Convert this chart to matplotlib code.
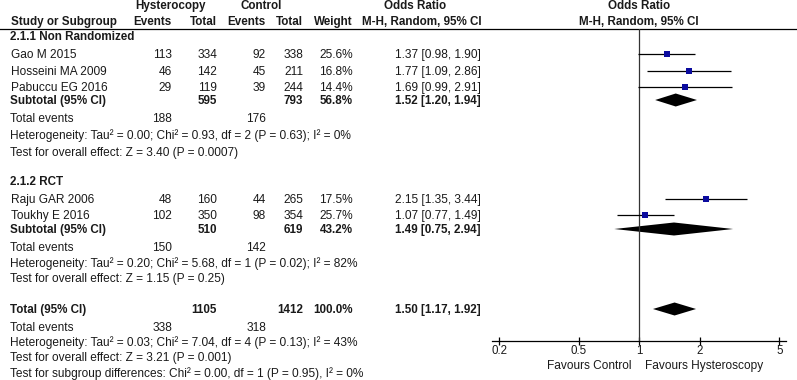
import numpy as np
import matplotlib
matplotlib.use('Agg')
import matplotlib.pyplot as plt
from matplotlib.ticker import NullLocator

plt.rcParams['font.family'] = ['Liberation Sans', 'DejaVu Sans']

# DATA
studies = ['Gao M 2015', 'Hosseini MA 2009', 'Pabuccu EG 2016', 'Raju GAR 2006', 'Toukhy E 2016']
hyst_events = [113, 46, 29, 48, 102]
hyst_total = [334, 142, 119, 160, 350]
ctrl_events = [92, 45, 39, 44, 98]
ctrl_total = [338, 211, 244, 265, 354]
weights = [25.6, 16.8, 14.4, 17.5, 25.7]
or_est = [1.37, 1.77, 1.69, 2.15, 1.07]
or_lo = [0.98, 1.09, 0.99, 1.35, 0.77]
or_hi = [1.90, 2.86, 2.91, 3.44, 1.49]

groups = ['2.1.1 Non Randomized', '2.1.2 RCT']
sub_hyst_total = [595, 510]
sub_ctrl_total = [793, 619]
sub_weight = [56.8, 43.2]
sub_est = [1.52, 1.49]
sub_lo = [1.20, 0.75]
sub_hi = [1.94, 2.94]
sub_hyst_events = [188, 150]
sub_ctrl_events = [176, 142]
sub_het = ['Heterogeneity: Tau\u00b2 = 0.00; Chi\u00b2 = 0.93, df = 2 (P = 0.63); I\u00b2 = 0%',
           'Heterogeneity: Tau\u00b2 = 0.20; Chi\u00b2 = 5.68, df = 1 (P = 0.02); I\u00b2 = 82%']
sub_test = ['Test for overall effect: Z = 3.40 (P = 0.0007)',
            'Test for overall effect: Z = 1.15 (P = 0.25)']

tot_hyst_total = 1105
tot_ctrl_total = 1412
tot_est, tot_lo, tot_hi = 1.50, 1.17, 1.92
tot_hyst_events = 338
tot_ctrl_events = 318
tot_notes = ['Heterogeneity: Tau\u00b2 = 0.03; Chi\u00b2 = 7.04, df = 4 (P = 0.13); I\u00b2 = 43%',
             'Test for overall effect: Z = 3.21 (P = 0.001)',
             'Test for subgroup differences: Chi\u00b2 = 0.00, df = 1 (P = 0.95), I\u00b2 = 0%']

ticks = [0.2, 0.5, 1, 2, 5]
tick_labels = ['0.2', '0.5', '1', '2', '5']

# LAYOUT (pixel rows = text baselines)
W, H = 797, 380
study_base = [58, 75, 91, 203, 219]
group_base = [40, 185]
sub_base = [104, 233]
events_base = [122, 251]
het_base = [139, 267]
test_base = [156, 282]
tot_base = 313
tot_events_base = 331
notes_base = [346, 361, 377]

x_study = 10
x_he, x_ht, x_ce, x_ct, x_w, x_or = 172, 217, 266, 303, 353, 481
txt = '#1a1a1a'
fs = 8.55
fs_bold = 8.4

fig = plt.figure(figsize=(W / 100, H / 100), dpi=100)
ax = fig.add_axes([0, 0, 1, 1])
ax.set_xlim(0, W)
ax.set_ylim(H, 0)
ax.axis('off')


def t(x, y, s, ha='left', bold=False, size=None):
    if size is None:
        size = fs_bold if bold else fs
    ax.text(x, y, s, ha=ha, va='baseline', fontsize=size, color=txt,
            fontweight='bold' if bold else 'normal')


# header
t(171, 9, 'Hysterocopy', ha='center', bold=True)
t(261, 9, 'Control', ha='center', bold=True)
t(415, 9, 'Odds Ratio', ha='center', bold=True)
t(639, 9, 'Odds Ratio', ha='center', bold=True)
t(x_study + 1, 25, 'Study or Subgroup', bold=True)
t(x_he, 25, 'Events', ha='right', bold=True)
t(x_ht, 25, 'Total', ha='right', bold=True)
t(x_ce, 25, 'Events', ha='right', bold=True)
t(x_ct, 25, 'Total', ha='right', bold=True)
t(x_w, 25, 'Weight', ha='right', bold=True)
t(422, 25, 'M-H, Random, 95% CI', ha='center', bold=True)
t(639, 25, 'M-H, Random, 95% CI', ha='center', bold=True)
ax.plot([0, W], [28.5, 28.5], color='black', lw=0.9)

# study rows
for i, name in enumerate(studies):
    y = study_base[i]
    t(x_study + 1, y, name)
    t(x_he, y, str(hyst_events[i]), ha='right')
    t(x_ht, y, str(hyst_total[i]), ha='right')
    t(x_ce, y, str(ctrl_events[i]), ha='right')
    t(x_ct, y, str(ctrl_total[i]), ha='right')
    t(x_w, y, '%.1f%%' % weights[i], ha='right')
    t(x_or, y, '%.2f [%.2f, %.2f]' % (or_est[i], or_lo[i], or_hi[i]), ha='right')

# subgroup rows
for g, gname in enumerate(groups):
    t(x_study, group_base[g], gname, bold=True)
    y = sub_base[g]
    t(x_study, y, 'Subtotal (95% CI)', bold=True)
    t(x_ht, y, str(sub_hyst_total[g]), ha='right', bold=True)
    t(x_ct, y, str(sub_ctrl_total[g]), ha='right', bold=True)
    t(x_w, y, '%.1f%%' % sub_weight[g], ha='right', bold=True)
    t(x_or, y, '%.2f [%.2f, %.2f]' % (sub_est[g], sub_lo[g], sub_hi[g]), ha='right', bold=True)
    t(x_study, events_base[g], 'Total events')
    t(x_he, events_base[g], str(sub_hyst_events[g]), ha='right')
    t(x_ce, events_base[g], str(sub_ctrl_events[g]), ha='right')
    t(x_study, het_base[g], sub_het[g])
    t(x_study, test_base[g], sub_test[g])

# overall
t(x_study, tot_base, 'Total (95% CI)', bold=True)
t(x_ht, tot_base, str(tot_hyst_total), ha='right', bold=True)
t(x_ct, tot_base, str(tot_ctrl_total), ha='right', bold=True)
t(x_w, tot_base, '100.0%', ha='right', bold=True)
t(x_or, tot_base, '%.2f [%.2f, %.2f]' % (tot_est, tot_lo, tot_hi), ha='right', bold=True)
t(x_study, tot_events_base, 'Total events')
t(x_he, tot_events_base, str(tot_hyst_events), ha='right')
t(x_ce, tot_events_base, str(tot_ctrl_events), ha='right')
for k, note in enumerate(tot_notes):
    t(x_study, notes_base[k], note)

t(632, 369, 'Favours Control', ha='right', size=8.6)
t(645, 369, 'Favours Hysteroscopy', size=8.6)

# FOREST PANEL
px_left, px_right, px_one, px_dec = 492, 786, 639.3, 200.3
y_top, y_axis = 28.5, 340.5
fx = fig.add_axes([px_left / W, 1 - y_axis / H, (px_right - px_left) / W, (y_axis - y_top) / H])
fx.set_xscale('log')
fx.set_xlim(10 ** ((px_left - px_one) / px_dec), 10 ** ((px_right - px_one) / px_dec))
fx.set_ylim(y_axis, y_top)
fx.patch.set_alpha(0)
for s in ['top', 'left', 'right']:
    fx.spines[s].set_visible(False)
fx.spines['bottom'].set_linewidth(0.9)
fx.set_yticks([])
fx.xaxis.set_minor_locator(NullLocator())
fx.set_xticks(ticks)
fx.set_xticklabels(tick_labels, fontsize=8.3, color=txt)
fx.tick_params(axis='x', direction='inout', length=6, width=0.9, pad=0)

fx.axvline(1, color='#333333', lw=0.9)

for i in range(len(studies)):
    yc = study_base[i] - 4
    fx.plot([or_lo[i], or_hi[i]], [yc, yc], color='black', lw=0.9, solid_capstyle='butt')
    fx.plot(or_est[i], yc, marker='s', color='#0b0b9e', ms=0.95 * np.sqrt(weights[i]), mew=0)

for g in range(len(groups)):
    yc = sub_base[g] - 4
    fx.fill([sub_lo[g], sub_est[g], sub_hi[g], sub_est[g]], [yc, yc - 6.5, yc, yc + 6.5],
            color='black', lw=0)
yc = tot_base - 4
fx.fill([tot_lo, tot_est, tot_hi, tot_est], [yc, yc - 6.5, yc, yc + 6.5], color='black', lw=0)

plt.savefig('out.png', dpi=100)
